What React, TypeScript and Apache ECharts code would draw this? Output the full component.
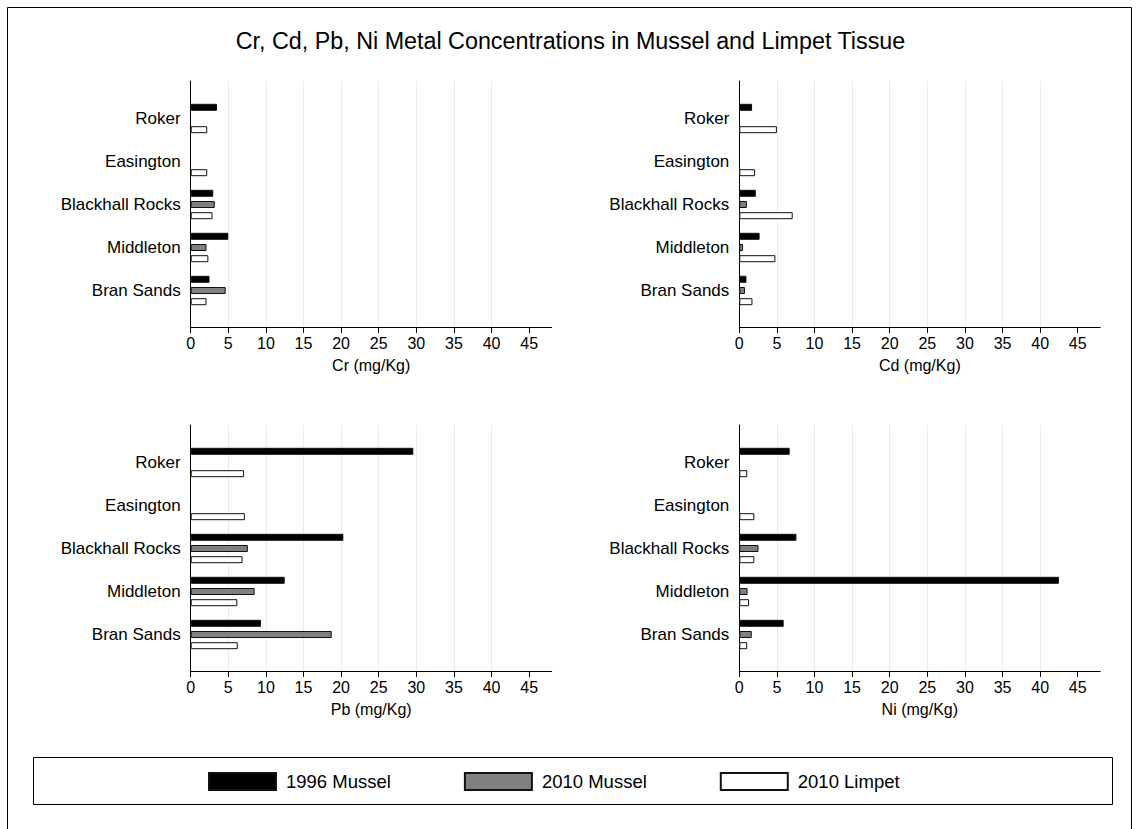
import React, { useEffect, useRef } from "react";
import * as echarts from "echarts";

const categories = ["Roker", "Easington", "Blackhall Rocks", "Middleton", "Bran Sands"];
const seriesNames = ["1996 Mussel", "2010 Mussel", "2010 Limpet"];
const metalNames = ["Cr (mg/Kg)", "Cd (mg/Kg)", "Pb (mg/Kg)", "Ni (mg/Kg)"];
const xTickValues = [0, 5, 10, 15, 20, 25, 30, 35, 40, 45];

const cr1996 = [3.5, null, 3.0, 5.0, 2.5];
const cr2010Mussel = [null, null, 3.2, 2.1, 4.65];
const cr2010Limpet = [2.2, 2.2, 2.9, 2.35, 2.1];

const cd1996 = [1.7, null, 2.2, 2.7, 0.95];
const cd2010Mussel = [null, null, 1.0, 0.5, 0.75];
const cd2010Limpet = [5.0, 2.1, 7.1, 4.8, 1.75];

const pb1996 = [29.6, null, 20.3, 12.5, 9.35];
const pb2010Mussel = [null, null, 7.6, 8.5, 18.75];
const pb2010Limpet = [7.1, 7.2, 6.9, 6.2, 6.25];

const ni1996 = [6.7, null, 7.6, 42.5, 5.9];
const ni2010Mussel = [null, null, 2.55, 1.1, 1.65];
const ni2010Limpet = [1.05, 2.0, 2.0, 1.3, 1.05];

const panels = [
  [cr1996, cr2010Mussel, cr2010Limpet],
  [cd1996, cd2010Mussel, cd2010Limpet],
  [pb1996, pb2010Mussel, pb2010Limpet],
  [ni1996, ni2010Mussel, ni2010Limpet],
];

const FONT = "'Liberation Sans', Arial, Helvetica, sans-serif";
const fills = ["#000000", "#808080", "#ffffff"];

export default function App() {
  const ref = useRef<HTMLDivElement>(null);
  useEffect(() => {
    if (!ref.current) return;
    const chart = echarts.init(ref.current, null, { renderer: "svg" });
    const grids: any[] = [];
    const xAxes: any[] = [];
    const yAxes: any[] = [];
    const series: any[] = [];
    panels.forEach((vals, i) => {
      const col = i % 2;
      const row = Math.floor(i / 2);
      const left = col ? 739.3 : 190.7;
      const top = row ? 425 : 81;
      grids.push({ left, top, width: 361, height: 246 });
      grids.push({ left, top: top + 16, width: 361, height: 215 });
      xAxes.push({
        gridIndex: 2 * i,
        type: "value",
        min: 0,
        max: 48,
        interval: 5,
        name: metalNames[i],
        nameLocation: "middle",
        nameGap: 30,
        nameTextStyle: { fontFamily: FONT, fontSize: 16, color: "#000" },
        axisLine: { show: true, lineStyle: { color: "#000", width: 1 } },
        axisTick: { show: true, length: 6, lineStyle: { color: "#000" }, customValues: xTickValues },
        axisLabel: { fontFamily: FONT, fontSize: 16, color: "#000", margin: 8, showMaxLabel: false },
        splitLine: { show: true, showMinLine: false, showMaxLine: false, lineStyle: { color: "#e6edf1", width: 1 } },
      });
      xAxes.push({
        gridIndex: 2 * i + 1,
        type: "value",
        min: 0,
        max: 48,
        show: false,
      });
      yAxes.push({
        gridIndex: 2 * i,
        type: "value",
        min: 0,
        max: 1,
        axisLine: { show: true, lineStyle: { color: "#000", width: 1 } },
        axisTick: { show: false },
        axisLabel: { show: false },
        splitLine: { show: false },
      });
      yAxes.push({
        gridIndex: 2 * i + 1,
        type: "category",
        data: categories,
        inverse: true,
        axisLine: { show: false },
        axisTick: { show: false },
        axisLabel: { fontFamily: FONT, fontSize: 17, color: "#000", margin: 10 },
        splitLine: { show: false },
      });
      vals.forEach((data, k) => {
        series.push({
          type: "bar",
          name: seriesNames[k],
          xAxisIndex: 2 * i + 1,
          yAxisIndex: 2 * i + 1,
          data,
          barWidth: 7,
          barGap: "60%",
          itemStyle: { color: fills[k], borderColor: "#111", borderWidth: 1 },
        });
      });
    });
    chart.setOption({
      animation: false,
      backgroundColor: "#fff",
      title: {
        text: "Cr, Cd, Pb, Ni Metal Concentrations in Mussel and Limpet Tissue",
        left: "center",
        top: 29,
        padding: 0,
        textStyle: { fontFamily: FONT, fontSize: 23.3, fontWeight: "normal", color: "#000" },
      },
      legend: {
        data: seriesNames,
        left: 208,
        top: 772,
        padding: 0,
        itemWidth: 67,
        itemHeight: 17,
        itemGap: 73,
        icon: "rect",
        textStyle: { fontFamily: FONT, fontSize: 18.5, color: "#000", padding: [0, 0, 0, 5] },
      },
      graphic: [
        { type: "rect", shape: { x: 7.5, y: 7.5, width: 1124, height: 840 }, style: { fill: "none", stroke: "#000", lineWidth: 1 }, silent: true },
        { type: "rect", shape: { x: 33.5, y: 757.5, width: 1079, height: 47 }, style: { fill: "none", stroke: "#000", lineWidth: 1 }, silent: true },
      ],
      grid: grids,
      xAxis: xAxes,
      yAxis: yAxes,
      series,
    });
    return () => chart.dispose();
  }, []);
  return <div ref={ref} style={{ position: "absolute", left: 0, top: 0, width: 1141, height: 829 }} />;
}
